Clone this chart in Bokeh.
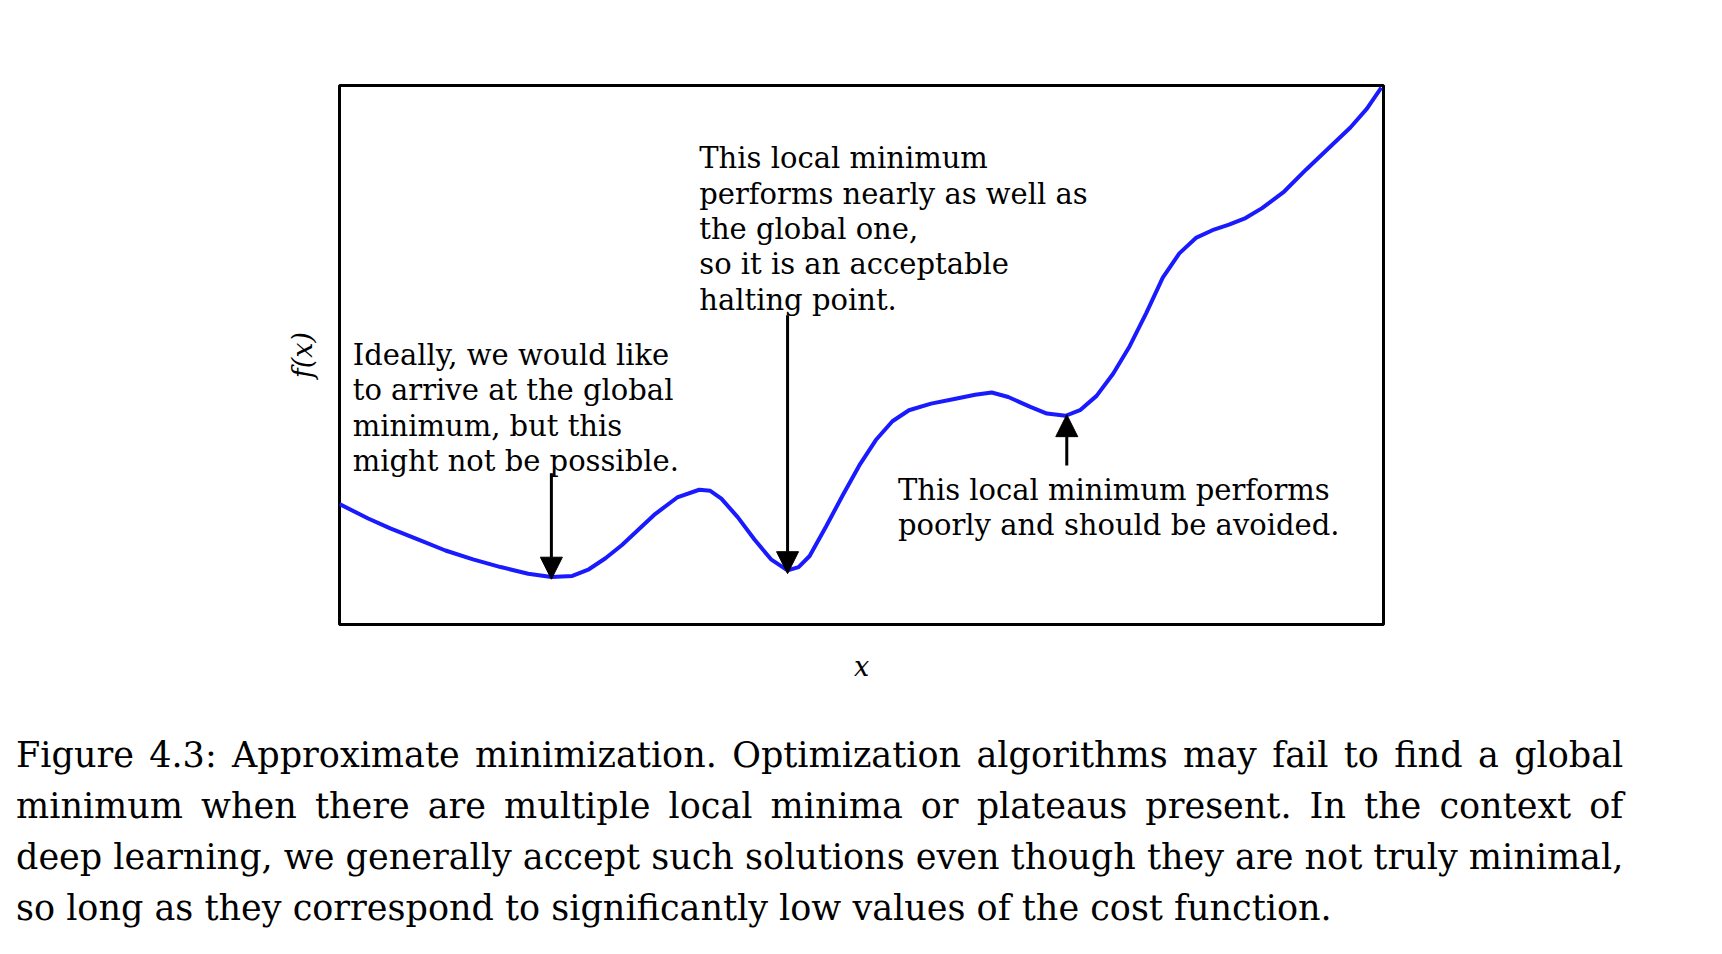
from bokeh.plotting import figure
from bokeh.models import Arrow, NormalHead, Div
from bokeh.layouts import column
from bokeh.embed import file_html
from bokeh.resources import INLINE
from bokeh.core.properties import value

FONT = "DejaVu Serif"
# curve (x in 0..10, y in 0..10)
px = [314,340,360,385,410,435,460,485,506,525,540,555,570,585,600,620,640,650,660,675,690,705,720,730,740,755,770,785,800,815,830,850,870,890,905,920,940,955,972,985,1000,1015,1030,1045,1060,1075,1090,1105,1120,1135,1150,1170,1190,1210,1230,1245,1258]
py = [463,476,485,495,505,513,520,526,529,528,522,512,500,486,472,457,450,451,458,475,495,513,523,520,510,483,455,428,405,388,378,372,368,364,362,366,375,381,383,378,365,345,320,290,258,236,222,215,210,204,195,180,160,141,122,105,86]
xs = [(p - 314) / 946 * 10 for p in px]
ys = [(572 - q) / 488 * 10 for q in py]

def dx(p): return (p - 314) / 946 * 10
def dy(q): return (572 - q) / 488 * 10

block1 = ["Ideally, we would like", "to arrive at the global", "minimum, but this", "might not be possible."]
block2 = ["This local minimum", "performs nearly as well as", "the global one,", "so it is an acceptable", "halting point."]
block3 = ["This local minimum performs", "poorly and should be avoided."]
caption_lines = ["Figure 4.3: Approximate minimization. Optimization algorithms may fail to find a global",
                 "minimum when there are multiple local minima or plateaus present. In the context of",
                 "deep learning, we generally accept such solutions even though they are not truly minimal,",
                 "so long as they correspond to significantly low values of the cost function."]

p = figure(width=1400, height=684, output_backend="svg", toolbar_location=None,
           x_range=(0, 10), y_range=(0, 10), min_border_left=339, min_border_top=85,
           min_border_right=17, min_border_bottom=60)
p.frame_width = 1044
p.frame_height = 539
p.grid.visible = False
p.outline_line_color = "black"
p.outline_line_width = 3
for ax in (p.xaxis, p.yaxis):
    ax.major_tick_line_color = None
    ax.minor_tick_line_color = None
    ax.major_label_text_font_size = "0px"
    ax.axis_line_color = None
    ax.axis_label_text_font = FONT
    ax.axis_label_text_font_style = "italic"
    ax.axis_label_text_font_size = "27px"
    ax.axis_label_text_color = "black"
p.xaxis.axis_label = "x"
p.yaxis.axis_label = "f(x)"
p.xaxis.axis_label_standoff = 20
p.yaxis.axis_label_standoff = 16

p.line(xs, ys, line_color="#1a1aff", line_width=4)

def block(lines, x0, y0):
    p.text([dx(x0)] * len(lines), [dy(y0 + 32 * i) for i in range(len(lines))], text=lines,
           text_font=value(FONT), text_font_size="29px", text_baseline="middle", text_align="left",
           text_color="black")
block(block1, 326, 328)
block(block2, 640, 150)
block(block3, 820, 450)

for (x0, y0, x1, y1) in [(506, 435, 506, 531), (720, 292, 720, 526), (973, 428, 973, 382)]:
    p.add_layout(Arrow(end=NormalHead(size=22, fill_color="black", line_color="black"),
                       x_start=dx(x0), y_start=dy(y0), x_end=dx(x1), y_end=dy(y1),
                       line_width=3, line_color="black"))

html = "".join(
    f'<div style="text-align: justify; text-align-last: {"justify" if i < len(caption_lines) - 1 else "left"};">{t}</div>'
    for i, t in enumerate(caption_lines))
div = Div(text=html, width=1665, styles={"font-family": FONT, "font-size": "35px",
          "line-height": "51px", "margin-left": "16px", "margin-top": "46px", "color": "black"})

open("out.html", "w").write(file_html(column(p, div), INLINE))
